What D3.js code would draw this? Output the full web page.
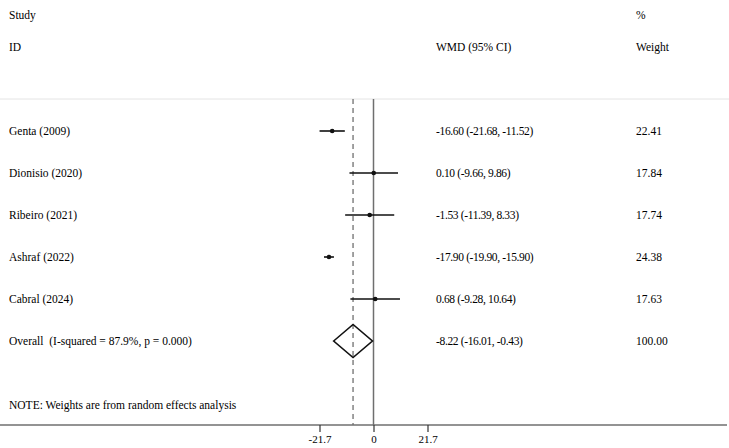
<!DOCTYPE html>
<html>
<head>
<meta charset="utf-8">
<script src="https://cdn.jsdelivr.net/npm/d3@7"></script>
<style>
  body { margin: 0; background: #fff; }
  svg text { font-family: "Liberation Serif", "Times New Roman", serif; fill: #000; white-space: pre; }
</style>
</head>
<body>
<div id="forest"></div>
<script>
// data
var studies = ["Genta (2009)", "Dionisio (2020)", "Ribeiro (2021)", "Ashraf (2022)", "Cabral (2024)"];
var wmd     = [-16.60, 0.10, -1.53, -17.90, 0.68];
var lower   = [-21.68, -9.66, -11.39, -19.90, -9.28];
var upper   = [-11.52, 9.86, 8.33, -15.90, 10.64];
var weights = [22.41, 17.84, 17.74, 24.38, 17.63];
var overallLabel = "Overall  (I-squared = 87.9%, p = 0.000)";
var overallEst = -8.22, overallLo = -16.01, overallHi = -0.43, overallWeight = 100.00;
var tickVals = [-21.7, 0, 21.7];

var width = 729, height = 448;

// plain hyphen minus like stata output
var locale = d3.formatLocale({decimal: ".", thousands: ",", grouping: [3], currency: ["", ""], minus: "-"});
var fmt = locale.format(".2f");
var fmtTick = locale.format(".1f");

var svg = d3.select("#forest")
  .append("svg")
    .attr("width", width)
    .attr("height", height);

// scales
var x = d3.scaleLinear()
  .domain([-21.7, 21.7])
  .range([319.5, 427.5]);

var rows = studies.concat([overallLabel]);
var y = d3.scalePoint()
  .domain(d3.range(rows.length))
  .range([131, 341]);

// faint top rule
svg.append("line")
  .attr("x1", 0).attr("x2", width)
  .attr("y1", 99).attr("y2", 99)
  .style("stroke", "#e4e4e4")
  .style("stroke-width", 1);

// headers
svg.append("text").attr("x", 9).attr("y", 19).style("font-size", "11.5px").text("Study");
svg.append("text").attr("x", 9).attr("y", 51).style("font-size", "11.5px").text("ID");
svg.append("text").attr("x", 436).attr("y", 51).style("font-size", "11.5px").text("WMD (95% CI)");
svg.append("text").attr("x", 636).attr("y", 19).style("font-size", "11.5px").text("%");
svg.append("text").attr("x", 636).attr("y", 51).style("font-size", "11.5px").text("Weight");

// reference lines
svg.append("line")
  .attr("x1", x(0)).attr("x2", x(0))
  .attr("y1", 99).attr("y2", 425)
  .style("stroke", "#6f6f6f")
  .style("stroke-width", 1.5);

svg.append("line")
  .attr("x1", x(overallEst)).attr("x2", x(overallEst))
  .attr("y1", 99).attr("y2", 425)
  .style("stroke", "#6f6f6f")
  .style("stroke-width", 1.3)
  .style("stroke-dasharray", "5,4");

// study CIs
var studyRows = svg.selectAll("g.study")
  .data(studies)
  .enter()
  .append("g")
    .attr("class", "study");

studyRows.append("line")
  .attr("x1", function(d, i) { return x(lower[i]); })
  .attr("x2", function(d, i) { return x(upper[i]); })
  .attr("y1", function(d, i) { return y(i); })
  .attr("y2", function(d, i) { return y(i); })
  .style("stroke", "#111")
  .style("stroke-width", 1.6);

studyRows.append("circle")
  .attr("cx", function(d, i) { return x(wmd[i]); })
  .attr("cy", function(d, i) { return y(i); })
  .attr("r", 2.3)
  .style("fill", "#111");

studyRows.append("text")
  .attr("x", 9)
  .attr("y", function(d, i) { return y(i) + 4; })
  .style("font-size", "11.5px")
  .text(function(d) { return d; });

studyRows.append("text")
  .attr("x", 436)
  .attr("y", function(d, i) { return y(i) + 4; })
  .style("font-size", "11.5px")
  .style("letter-spacing", "-0.35px")
  .text(function(d, i) { return fmt(wmd[i]) + " (" + fmt(lower[i]) + ", " + fmt(upper[i]) + ")"; });

studyRows.append("text")
  .attr("x", 636)
  .attr("y", function(d, i) { return y(i) + 4; })
  .style("font-size", "11.5px")
  .text(function(d, i) { return fmt(weights[i]); });

// overall diamond
var oy = y(rows.length - 1);
var dh = 16.5;
svg.append("path")
  .attr("d", "M" + x(overallLo) + "," + oy +
             "L" + x(overallEst) + "," + (oy - dh) +
             "L" + x(overallHi) + "," + oy +
             "L" + x(overallEst) + "," + (oy + dh) + "Z")
  .style("fill", "none")
  .style("stroke", "#111")
  .style("stroke-width", 1.6);

svg.append("text").attr("x", 9).attr("y", oy + 4).style("font-size", "11.5px").text(overallLabel);
svg.append("text").attr("x", 436).attr("y", oy + 4).style("font-size", "11.5px")
  .style("letter-spacing", "-0.35px")
  .text(fmt(overallEst) + " (" + fmt(overallLo) + ", " + fmt(overallHi) + ")");
svg.append("text").attr("x", 636).attr("y", oy + 4).style("font-size", "11.5px").text(fmt(overallWeight));

// note
svg.append("text").attr("x", 9).attr("y", 409).style("font-size", "11.5px")
  .text("NOTE: Weights are from random effects analysis");

// x axis
svg.append("line")
  .attr("x1", 0).attr("x2", 727)
  .attr("y1", 425).attr("y2", 425)
  .style("stroke", "#6f6f6f")
  .style("stroke-width", 1.5);

var xAxis = svg.append("g")
  .attr("transform", "translate(0,425)")
  .call(d3.axisBottom(x).tickValues(tickVals).tickSize(7).tickFormat(function(d) { return d === 0 ? "0" : fmtTick(d); }));
xAxis.select(".domain").remove();
xAxis.selectAll(".tick line").style("stroke", "#333").style("stroke-width", 1.2);
xAxis.selectAll(".tick text")
  .attr("y", 10)
  .style("font-family", "Liberation Serif, Times New Roman, serif")
  .style("font-size", "11px")
  .style("fill", "#000");
</script>
</body>
</html>
